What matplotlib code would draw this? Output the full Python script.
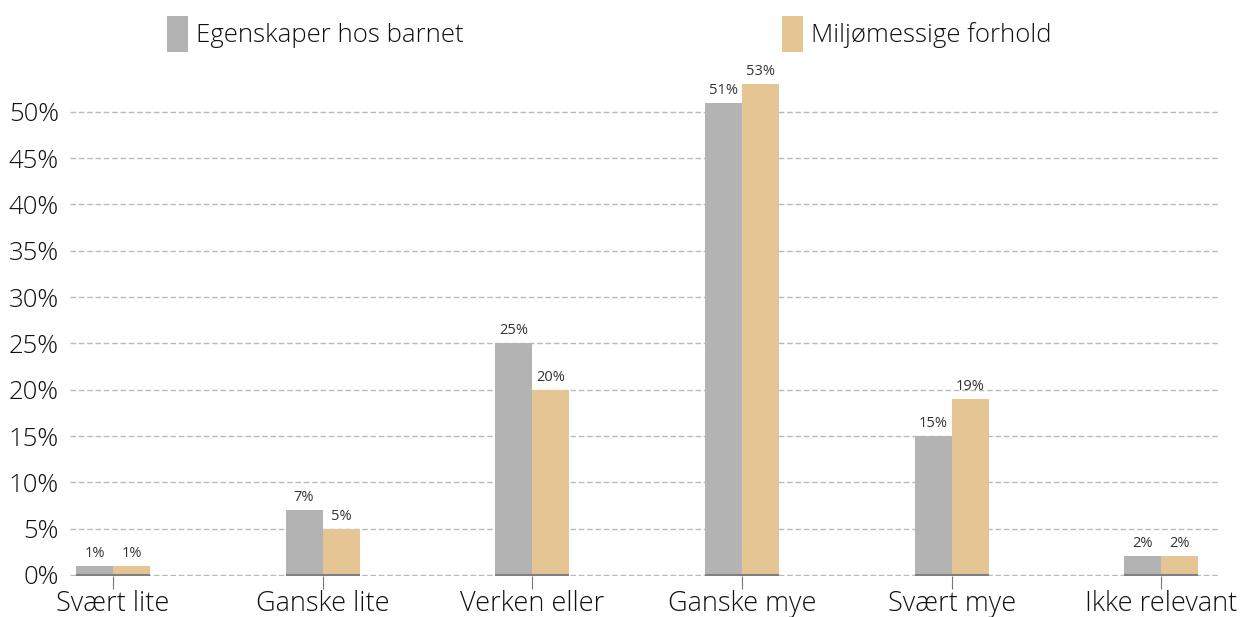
import matplotlib.pyplot as plt
import numpy as np
from matplotlib.patches import Rectangle

categories = ['Svært lite', 'Ganske lite', 'Verken eller', 'Ganske mye', 'Svært mye', 'Ikke relevant']
egenskaper = [1, 7, 25, 51, 15, 2]
miljo = [1, 5, 20, 53, 19, 2]
series_names = ['Egenskaper hos barnet', 'Miljømessige forhold']
colors = ['#b3b3b3', '#e4c593']

plt.rcParams['font.family'] = ['Open Sans', 'DejaVu Sans']
plt.rcParams['font.weight'] = 'light'
plt.rcParams['text.color'] = '#111111'
plt.rcParams['xtick.color'] = '#111111'
plt.rcParams['ytick.color'] = '#111111'

W, H = 1240, 617
fig = plt.figure(figsize=(W / 100, H / 100), dpi=100)
# 0% at y=575 px, 9.26 px per percent
y0 = -0.15
ax = fig.add_axes([70 / W, (42 - 0.15 * 9.26) / H, 1150 / W, (515 + 0.15 * 9.26) / H])

x = np.arange(len(categories))
bw = 0.177
b1 = ax.bar(x - bw / 2, egenskaper, bw, color=colors[0], zorder=3)
b2 = ax.bar(x + bw / 2, miljo, bw, color=colors[1], zorder=3)

for bars, vals in ((b1, egenskaper), (b2, miljo)):
    for b, v in zip(bars, vals):
        ax.text(b.get_x() + b.get_width() / 2, v + 0.55, f'{v}%', ha='center', va='bottom',
                fontsize=10.5, color='#333333', fontweight='normal')

# dark base line under the bars
for xi in x:
    ax.plot([xi - bw, xi + bw], [0, 0], color='#808080', lw=1.5, zorder=4, solid_capstyle='butt')

ax.set_xlim(-0.205, 5.28)
ax.set_ylim(y0, 55.6)
ax.set_yticks(range(0, 55, 5))
ax.set_yticklabels([f'{v}%' for v in range(0, 55, 5)], fontsize=18.5)
ax.set_xticks(x)
ax.set_xticklabels(categories, fontsize=19.5)
ax.tick_params(axis='y', length=0, pad=8)
ax.tick_params(axis='x', length=9, color='#777777', pad=1)
ax.grid(axis='y', linestyle=(0, (4, 2)), color='#bbbbbb', lw=1, zorder=0)
for s in ax.spines.values():
    s.set_visible(False)

# legend
for lx, name, c in ((167, series_names[0], colors[0]), (782, series_names[1], colors[1])):
    fig.patches.append(Rectangle((lx / W, 1 - 52 / H), 21 / W, 36 / H, transform=fig.transFigure,
                                 facecolor=c, edgecolor='none'))
    fig.text((lx + 29) / W, 1 - 35 / H, name, fontsize=18.5, va='center', ha='left')

fig.savefig('out.png', dpi=100)
